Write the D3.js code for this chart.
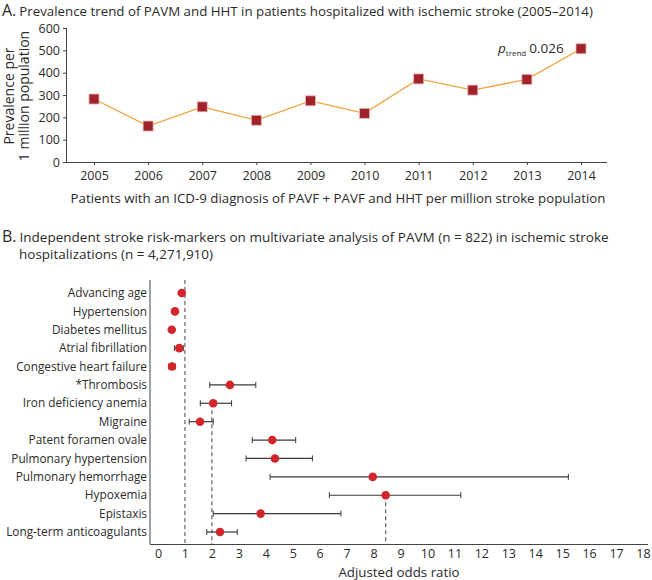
<!DOCTYPE html>
<html>
<head>
<meta charset="utf-8">
<script src="https://cdn.jsdelivr.net/npm/d3@7"></script>
<style>
  body { margin: 0; background: #fff; }
  svg text { font-family: "Open Sans", sans-serif; fill: #2b2b2b; }
</style>
</head>
<body>
<div id="viz"></div>
<script>
// panel A data
var years = [2005, 2006, 2007, 2008, 2009, 2010, 2011, 2012, 2013, 2014];
var prevalence = [282, 161, 247, 187, 274, 218, 372, 322, 370, 507];
var yTicksA = [0, 100, 200, 300, 400, 500, 600];

// panel B data
var factors = ['Advancing age', 'Hypertension', 'Diabetes mellitus', 'Atrial fibrillation',
  'Congestive heart failure', '*Thrombosis', 'Iron deficiency anemia', 'Migraine',
  'Patent foramen ovale', 'Pulmonary hypertension', 'Pulmonary hemorrhage', 'Hypoxemia',
  'Epistaxis', 'Long-term anticoagulants'];
var oddsRatio = [0.88, 0.63, 0.51, 0.79, 0.52, 2.67, 2.05, 1.56, 4.24, 4.34, 7.97, 8.45, 3.81, 2.30];
var ciLow  = [0.84, 0.57, 0.45, 0.61, 0.40, 1.92, 1.57, 1.16, 3.50, 3.27, 4.16, 6.36, 2.05, 1.81];
var ciHigh = [0.93, 0.71, 0.58, 0.94, 0.64, 3.63, 2.73, 2.05, 5.11, 5.73, 15.23, 11.24, 6.79, 2.94];
var xTicksB = d3.range(0, 19);
// dashed reference lines: value and the row they start from (null = top)
var refLines = [{value: 1, from: null}, {value: 2, from: 'Iron deficiency anemia'}, {value: 8.45, from: 'Hypoxemia'}];

var width = 652, height = 580;

var svg = d3.select('#viz').append('svg')
  .attr('width', width)
  .attr('height', height);

// ---------- panel A ----------
var titleA = svg.append('text').attr('x', 2).attr('y', 16).style('font-size', '13.3px');
titleA.append('tspan').text('A.').style('font-size', '16px');
titleA.append('tspan').attr('dx', 3).text('Prevalence trend of PAVM and HHT in patients hospitalized with ischemic stroke (2005\u20132014)');

var xA = d3.scalePoint()
  .domain(years)
  .range([94, 581]);

var yA = d3.scaleLinear()
  .domain([0, 600])
  .range([162, 28]);

var gA = svg.append('g');

gA.append('g')
  .attr('transform', 'translate(67,0)')
  .call(d3.axisLeft(yA).tickValues(yTicksA).tickSize(4).tickPadding(3))
  .call(function(g){
    g.select('.domain').attr('d', 'M-0.5,' + yA(600) + 'V' + yA(0)).attr('stroke', '#444');
    g.selectAll('.tick line').attr('stroke', '#444');
    g.selectAll('.tick text').style('font-size', '12.5px').attr('fill', '#2b2b2b');
  });

gA.append('g')
  .attr('transform', 'translate(0,162)')
  .call(d3.axisBottom(xA).tickSize(3).tickPadding(6))
  .call(function(g){
    g.select('.domain').attr('d', 'M67,0.5H607').attr('stroke', '#444');
    g.selectAll('.tick line').attr('stroke', '#444');
    g.selectAll('.tick text').style('font-size', '12.5px').attr('fill', '#2b2b2b');
  });

gA.append('text')
  .attr('x', 338).attr('y', 203)
  .attr('text-anchor', 'middle')
  .style('font-size', '13.3px')
  .text('Patients with an ICD-9 diagnosis of PAVF + PAVF and HHT per million stroke population');

var yTitle = gA.append('text')
  .attr('transform', 'translate(14,' + 96 + ') rotate(-90)')
  .attr('text-anchor', 'middle')
  .style('font-size', '14px');
yTitle.append('tspan').attr('x', 0).attr('dy', 0).text('Prevalence per');
yTitle.append('tspan').attr('x', 0).attr('dy', 15).text('1 million population');

var line = d3.line()
  .x(function(d, i){ return xA(years[i]); })
  .y(function(d){ return yA(d); });

gA.append('path')
  .datum(prevalence)
  .attr('d', line)
  .attr('fill', 'none')
  .attr('stroke', '#f0a33c')
  .attr('stroke-width', 1.3);

gA.selectAll('.sq')
  .data(prevalence)
  .enter()
  .append('rect')
  .attr('class', 'sq')
  .attr('x', function(d, i){ return xA(years[i]) - 5; })
  .attr('y', function(d){ return yA(d) - 5; })
  .attr('width', 10)
  .attr('height', 10)
  .attr('fill', '#a1222b')
  .attr('stroke', '#e8b6b6')
  .attr('stroke-width', 0.8);

var pLab = gA.append('text')
  .attr('x', 498).attr('y', 53)
  .style('font-size', '13.5px');
pLab.append('tspan').text('p').style('font-style', 'italic');
pLab.append('tspan').attr('dy', 3).text('trend').style('font-size', '8px');
pLab.append('tspan').attr('dy', -3).attr('dx', 3).text('0.026');

// ---------- panel B ----------
var titleB = svg.append('text').attr('x', 2).attr('y', 242).style('font-size', '13.5px');
titleB.append('tspan').text('B.').style('font-size', '16px');
titleB.append('tspan').attr('dx', 3).text('Independent stroke risk-markers on multivariate analysis of PAVM (n = 822) in ischemic stroke');
svg.append('text').attr('x', 19).attr('y', 259).style('font-size', '13.5px')
  .text('hospitalizations (n = 4,271,910)');

var xB = d3.scaleLinear()
  .domain([0, 18])
  .range([158, 643]);

var yB = d3.scalePoint()
  .domain(factors)
  .range([293, 532]);

var topY = 280, axisY = 544, axisX = 150;

var gB = svg.append('g');

gB.append('line')
  .attr('x1', axisX).attr('x2', axisX)
  .attr('y1', topY).attr('y2', axisY)
  .attr('stroke', '#444');

gB.append('g')
  .attr('transform', 'translate(0,' + axisY + ')')
  .call(d3.axisBottom(xB).tickValues(xTicksB).tickSize(0).tickPadding(5))
  .call(function(g){
    g.select('.domain').attr('d', 'M' + axisX + ',0.5H648').attr('stroke', '#444');
    g.selectAll('.tick text').style('font-size', '12.5px').attr('fill', '#2b2b2b');
  });

gB.append('text')
  .attr('x', 399).attr('y', 577)
  .attr('text-anchor', 'middle')
  .style('font-size', '13.3px')
  .text('Adjusted odds ratio');

gB.selectAll('.lab')
  .data(factors)
  .enter()
  .append('text')
  .attr('class', 'lab')
  .attr('x', 147)
  .attr('y', function(d){ return yB(d); })
  .attr('dy', '0.35em')
  .attr('text-anchor', 'end')
  .style('font-size', '11.8px')
  .text(function(d){ return d; });

gB.selectAll('.ref')
  .data(refLines)
  .enter()
  .append('line')
  .attr('class', 'ref')
  .attr('x1', function(d){ return xB(d.value); })
  .attr('x2', function(d){ return xB(d.value); })
  .attr('y1', function(d){ return d.from ? yB(d.from) : topY; })
  .attr('y2', axisY)
  .attr('stroke', '#555')
  .attr('stroke-width', 1.1)
  .attr('stroke-dasharray', '4,3');

var rows = gB.selectAll('.row')
  .data(factors)
  .enter()
  .append('g')
  .attr('class', 'row')
  .attr('transform', function(d){ return 'translate(0,' + yB(d) + ')'; });

rows.append('line')
  .attr('x1', function(d, i){ return xB(ciLow[i]); })
  .attr('x2', function(d, i){ return xB(ciHigh[i]); })
  .attr('stroke', '#3a3a3a')
  .attr('stroke-width', 1.2);

rows.append('line')
  .attr('x1', function(d, i){ return xB(ciLow[i]); })
  .attr('x2', function(d, i){ return xB(ciLow[i]); })
  .attr('y1', -3).attr('y2', 3)
  .attr('stroke', '#3a3a3a');

rows.append('line')
  .attr('x1', function(d, i){ return xB(ciHigh[i]); })
  .attr('x2', function(d, i){ return xB(ciHigh[i]); })
  .attr('y1', -3).attr('y2', 3)
  .attr('stroke', '#3a3a3a');

rows.append('circle')
  .attr('cx', function(d, i){ return xB(oddsRatio[i]); })
  .attr('cy', 0)
  .attr('r', 4.3)
  .attr('fill', '#d3262c');
</script>
</body>
</html>
